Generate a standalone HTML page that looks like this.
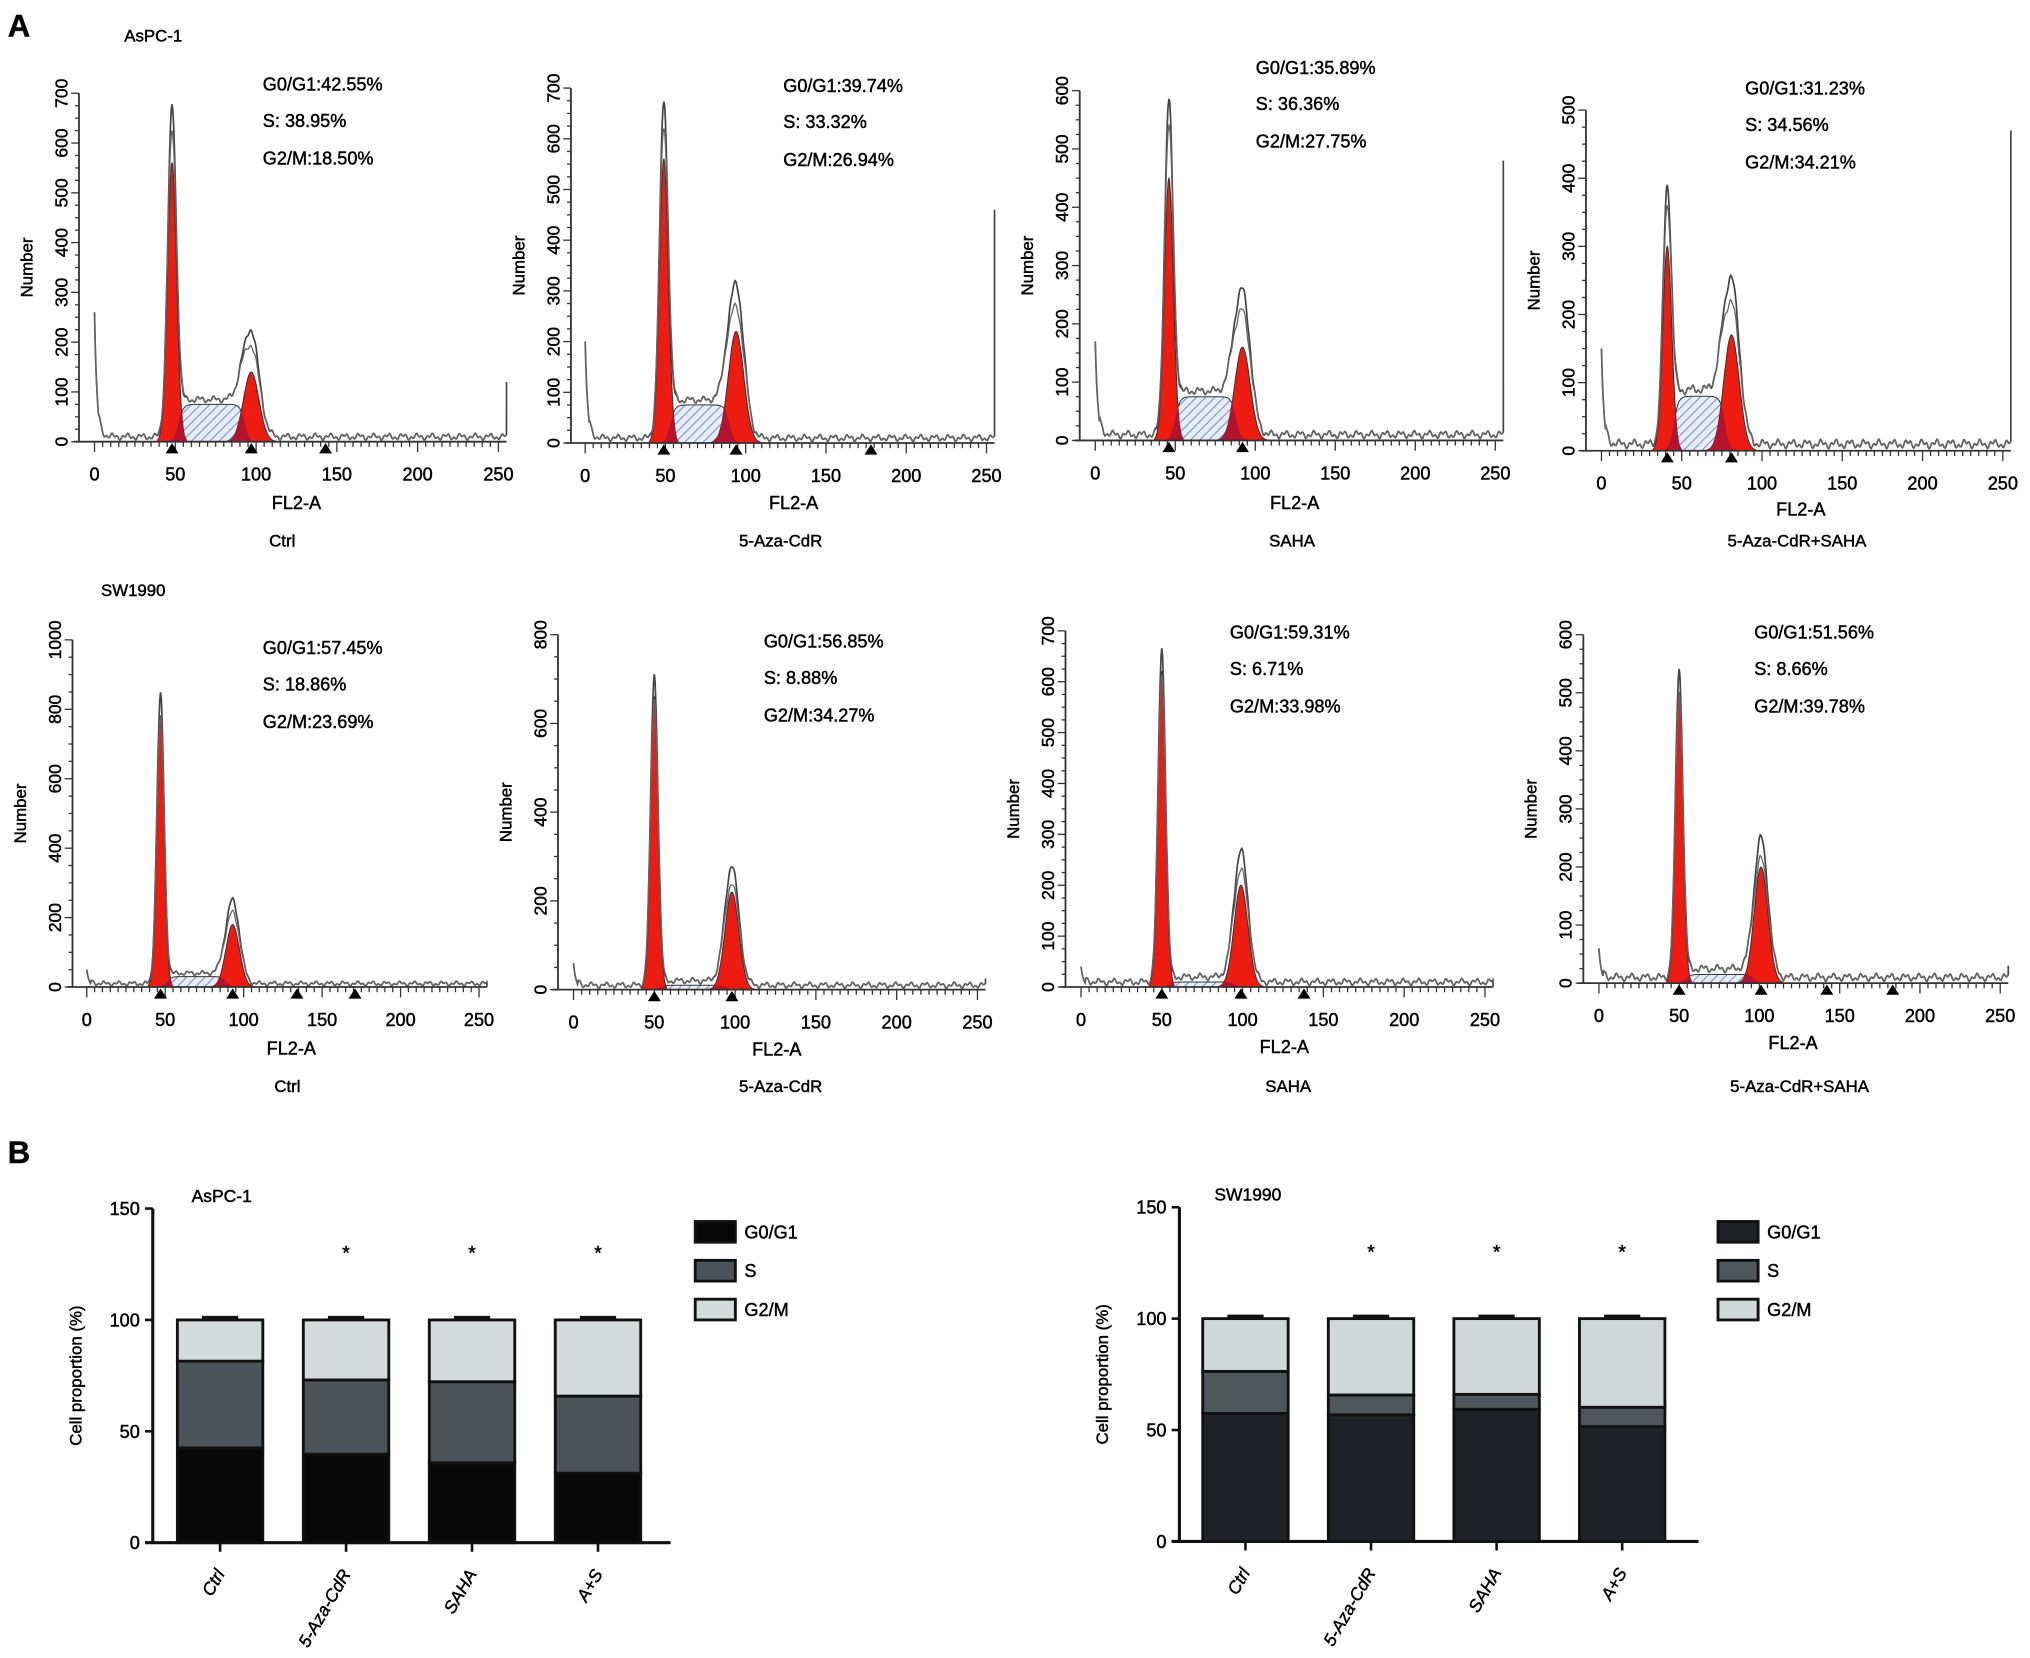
<!DOCTYPE html>
<html><head><meta charset="utf-8">
<style>
html,body{margin:0;padding:0;background:#fff;}
svg{display:block;font-family:"Liberation Sans",Arial,sans-serif;}
svg text{stroke:#000;stroke-width:0.35px;fill:#000;}
</style></head>
<body>
<svg id="fig" width="2030" height="1658" viewBox="0 0 1568 1280" preserveAspectRatio="none" xmlns="http://www.w3.org/2000/svg">
<defs>
<pattern id="hatch" patternUnits="userSpaceOnUse" width="5" height="5" patternTransform="rotate(45)">
<rect width="5" height="5" fill="#e8eef8"/>
<line x1="0" y1="0" x2="0" y2="5" stroke="#6f8fcf" stroke-width="1.6"/>
</pattern>
</defs>
<text x="6" y="28" font-size="24" font-weight="bold">A</text>
<text x="6" y="898" font-size="24" font-weight="bold">B</text>
<text x="96" y="32" font-size="13">AsPC-1</text>
<text x="78" y="460" font-size="13">SW1990</text>
<g id="hists"></g>
<g id="bars"></g>
</svg>
<script>
// ---- histogram data (peak parameters) ----
const histNames = ["aspc-ctrl","aspc-aza","aspc-saha","aspc-combo","sw-ctrl","sw-aza","sw-saha","sw-combo"];
const histTitles = ["Ctrl","5-Aza-CdR","SAHA","5-Aza-CdR+SAHA","Ctrl","5-Aza-CdR","SAHA","5-Aza-CdR+SAHA"];
const histYMax = [700,700,600,500,1000,800,700,600];
const histYStep = [100,100,100,100,200,200,100,100];
const g1Mean = [48,49,46,41,47,50,50,50];
const g1Env = [660,660,570,375,830,700,655,530];
const g1Red = [560,560,450,300,780,660,620,500];
const g2Mean = [97,94,92,81,93,98,99,101];
const g2Env = [210,300,245,240,240,270,260,240];
const g2Red = [140,220,160,170,180,220,200,200];
const sLevel = [75,75,75,80,30,10,10,15];
const debris = [260,200,170,150,50,60,40,60];
const endSpike = [120,460,480,470,0,25,0,30];
const statG1 = ["42.55%","39.74%","35.89%","31.23%","57.45%","56.85%","59.31%","51.56%"];
const statS = ["38.95%","33.32%","36.36%","34.56%","18.86%","8.88%","6.71%","8.66%"];
const statG2 = ["18.50%","26.94%","27.75%","34.21%","23.69%","34.27%","33.98%","39.78%"];
const arrowCh = [[48,97,143],[49,94,178],[46,92],[41,81],[47,93,134,171],[50,98],[50,99,138],[50,101,142,183]];

// layout (not data)
const L = [
 {ax:61,x0:73,x1:385,y0:341,yt:72,sx:203,sy:70,tx:218,ty:422,fx:229,fy:393},
 {ax:441,x0:452,x1:762,y0:342,yt:68,sx:605,sy:71,tx:603,ty:422,fx:613,fy:393},
 {ax:834,x0:846,x1:1155,y0:340,yt:70,sx:970,sy:57,tx:998,ty:422,fx:1000,fy:393},
 {ax:1225,x0:1237,x1:1547,y0:348,yt:85,sx:1348,sy:73,tx:1388,ty:422,fx:1391,fy:398},
 {ax:56,x0:67,x1:370,y0:762,yt:494,sx:203,sy:505,tx:222,ty:843,fx:225,fy:814},
 {ax:431,x0:443,x1:755,y0:764,yt:490,sx:590,sy:500,tx:603,ty:843,fx:600,fy:815},
 {ax:823,x0:835,x1:1147,y0:762,yt:487,sx:950,sy:493,tx:995,ty:843,fx:992,fy:813},
 {ax:1223,x0:1235,x1:1545,y0:759,yt:490,sx:1355,sy:493,tx:1390,ty:843,fx:1385,fy:810}
];
const NS="http://www.w3.org/2000/svg";
function mk(tag,attrs,parent){const e=document.createElementNS(NS,tag);for(const k in attrs)e.setAttribute(k,attrs[k]);parent.appendChild(e);return e;}
const gauss=(c,m,h,s)=>h*Math.exp(-0.5*((c-m)/s)**2);
const sig=x=>1/(1+Math.exp(-x));
const H=document.getElementById('hists');
for(let i=0;i<8;i++){
  const p=L[i];
  const g=mk('g',{},H);
  
  
  const X=c=>p.x0+(p.x1-p.x0)*c/250;
  const Y=v=>p.y0-(p.y0-p.yt)*v/histYMax[i];
  const sd1=i<4?2.8:2.4, sd2=i<4?4.8:4.3;
  const sComp=c=>sLevel[i]*sig((c-(g1Mean[i]+4))/1.5)*sig(((g2Mean[i]-4)-c)/1.5);
  const base=c=>c<3?0:10+4*Math.sin(c*0.7)+3*Math.sin(c*1.9);
  let d='M'+X(g1Mean[i])+','+Y(0);
  for(let c=g1Mean[i];c<=g2Mean[i];c+=0.5)d+=' L'+X(c).toFixed(1)+','+Y(sComp(c)).toFixed(1);
  d+=' L'+X(g2Mean[i])+','+Y(0)+'Z';
  const sp=mk('path',{d:d,fill:'url(#hatch)',stroke:'#333','stroke-width':0.8},g);
  
  
  [[g1Mean[i],g1Red[i],sd1,'g1'],[g2Mean[i],g2Red[i],sd2,'g2']].forEach(([m,h,s,n])=>{
    let dd='M'+X(m-3.2*s)+','+Y(0);
    for(let c=m-3.2*s;c<=m+3.2*s;c+=0.25)dd+=' L'+X(c).toFixed(1)+','+Y(gauss(c,m,h,s)).toFixed(1);
    dd+=' L'+X(m+3.2*s)+','+Y(0)+'Z';
    const rp=mk('path',{d:dd,fill:'#ee1c10',stroke:'#333','stroke-width':0.8},g);
    
    
    let od='M'+X(m-3.2*s)+','+Y(0);
    for(let c=m-3.2*s;c<=m+3.2*s;c+=0.25)od+=' L'+X(c).toFixed(1)+','+Y(Math.min(gauss(c,m,h,s),sComp(c))).toFixed(1);
    od+=' L'+X(m+3.2*s)+','+Y(0)+'Z';
    mk('path',{d:od,fill:'#b5122e',stroke:'none'},g);
  });
  let e='',f='';
  for(let c=0;c<=255;c+=0.5){
    const fit=gauss(c,g1Mean[i],g1Env[i]*0.92,sd1)+gauss(c,g2Mean[i],g2Env[i]*0.85,sd2*1.05)+sComp(c)+debris[i]*Math.exp(-c/1.6)+base(c);
    const env=gauss(c,g1Mean[i],g1Env[i],sd1*0.95)+gauss(c,g2Mean[i],g2Env[i],sd2)+sComp(c)+debris[i]*Math.exp(-c/1.6)+base(c);
    e+=(c?' L':'M')+X(c).toFixed(1)+','+Y(env).toFixed(1);
    f+=(c?' L':'M')+X(c).toFixed(1)+','+Y(fit).toFixed(1);
  }
  e+=' L'+X(255)+','+Y(endSpike[i]);
  const el=mk('path',{d:e,fill:'none',stroke:'#444','stroke-width':1.3},g);
  
  
  mk('path',{d:f,fill:'none',stroke:'#666','stroke-width':1},g);
  mk('line',{x1:p.ax,y1:Y(histYMax[i]),x2:p.ax,y2:p.y0,stroke:'#333','stroke-width':1.4},g);
  mk('line',{x1:p.ax-4,y1:p.y0,x2:X(255),y2:p.y0,stroke:'#333','stroke-width':1.4},g);
  for(let v=0;v<=histYMax[i];v+=histYStep[i]/4){
    const major=v%histYStep[i]===0;
    mk('line',{x1:p.ax-(major?6:3),y1:Y(v),x2:p.ax,y2:Y(v),stroke:'#333','stroke-width':1},g);
    if(major){
      const t=mk('text',{x:0,y:0,'font-size':13.5,'text-anchor':'middle',transform:`translate(${p.ax-9},${Y(v)}) rotate(-90)`},g);
      t.textContent=v;
      
      
    }
  }
  for(let c=0;c<=250;c+=5){
    const major=c%50===0;
    mk('line',{x1:X(c),y1:p.y0,x2:X(c),y2:p.y0+(major?8:4),stroke:'#333','stroke-width':1},g);
    if(major){
      const t=mk('text',{x:X(c),y:p.y0+30,'font-size':14,'text-anchor':'middle'},g);
      t.textContent=c;
      
      
    }
  }
  arrowCh[i].forEach(c=>{
    const a=mk('path',{d:`M${X(c)-5},${p.y0+9} L${X(c)+5},${p.y0+9} L${X(c)},${p.y0+1}Z`,fill:'#000'},g);
    
    
  });
  const yl=mk('text',{x:0,y:0,'font-size':13,'text-anchor':'middle',transform:`translate(${p.ax-36},${(p.y0+p.yt)/2}) rotate(-90)`},g);
  yl.textContent='Number';
  
  
  const xl=mk('text',{x:p.fx,y:p.fy,'font-size':14,'text-anchor':'middle'},g);
  xl.textContent='FL2-A';
  
  
  const tl=mk('text',{x:p.tx,y:p.ty,'font-size':13,'text-anchor':'middle'},g);
  tl.textContent=histTitles[i];
  
  
  [['G0/G1:'+statG1[i],0],['S: '+statS[i],28],['G2/M:'+statG2[i],57]].forEach(([s,dy])=>{
    const t=mk('text',{x:p.sx,y:p.sy+dy,'font-size':14},g);
    t.textContent=s;
    
    
  });
}

// ---- bar chart data ----
const barCategories = ["Ctrl","5-Aza-CdR","SAHA","A+S"];
const aspcG1 = [42.55,39.74,35.89,31.23];
const aspcS = [38.95,33.32,36.36,34.56];
const aspcG2 = [18.50,26.94,27.75,34.21];
const swG1 = [57.45,56.85,59.31,51.56];
const swS = [18.86,8.88,6.71,8.66];
const swG2 = [23.69,34.27,33.98,39.78];
const barSig = [false,true,true,true];
const barTicks = [0,50,100,150];
const legendLabels = ["G0/G1","S","G2/M"];

const B=document.getElementById('bars');
const charts=[
 {name:'aspc1',title:'AsPC-1',ax:118,y0:1191,yt:933,x0:137,pitch:97.3,bw:66,g1:aspcG1,s:aspcS,g2:aspcG2,cols:['#080808','#4b5459','#d3dcdb'],lx:537,tx:148,ty:928,axEnd:518},
 {name:'sw1990',title:'SW1990',ax:911,y0:1190,yt:932,x0:929,pitch:97,bw:66,g1:swG1,s:swS,g2:swG2,cols:['#1e2226','#4d575c','#cfd8d8'],lx:1327,tx:938,ty:927,axEnd:1312}
];
charts.forEach(ch=>{
  const g=mk('g',{},B);
  
  
  const Y=v=>ch.y0-(ch.y0-ch.yt)*v/150;
  const t0=mk('text',{x:ch.tx,y:ch.ty,'font-size':13.5},g);
  t0.textContent=ch.title;
  
  
  mk('line',{x1:ch.ax,y1:Y(150),x2:ch.ax,y2:ch.y0,stroke:'#111','stroke-width':2.4},g);
  mk('line',{x1:ch.ax-6,y1:ch.y0,x2:ch.axEnd,y2:ch.y0,stroke:'#111','stroke-width':2.4},g);
  barTicks.forEach(v=>{
    mk('line',{x1:ch.ax-6,y1:Y(v),x2:ch.ax,y2:Y(v),stroke:'#111','stroke-width':2},g);
    const t=mk('text',{x:ch.ax-10,y:Y(v)+5,'font-size':14,'text-anchor':'end'},g);
    t.textContent=v;
    
    
  });
  const yl=mk('text',{x:0,y:0,'font-size':13,'text-anchor':'middle',transform:`translate(${ch.ax-55},${Y(75)}) rotate(-90)`},g);
  yl.textContent='Cell proportion (%)';
  
  
  barCategories.forEach((cat,k)=>{
    const x=ch.x0+k*ch.pitch, cx=x+ch.bw/2;
    const segs=[[0,ch.g1[k],0,'g0-g1'],[ch.g1[k],ch.g1[k]+ch.s[k],1,'s'],[ch.g1[k]+ch.s[k],ch.g1[k]+ch.s[k]+ch.g2[k],2,'g2-m']];
    segs.forEach(([a,b,ci,n])=>{
      const r=mk('rect',{x:x,y:Y(b),width:ch.bw,height:Y(a)-Y(b),fill:ch.cols[ci],stroke:'#111','stroke-width':2.2},g);
      
      
      mk('line',{x1:cx-14,y1:Y(b)-2,x2:cx+14,y2:Y(b)-2,stroke:'#111','stroke-width':2.2},g);
    });
    mk('line',{x1:cx,y1:ch.y0,x2:cx,y2:ch.y0+7,stroke:'#111','stroke-width':2},g);
    const t=mk('text',{x:0,y:0,'font-size':13.5,'font-style':'italic','text-anchor':'end',transform:`translate(${cx+4},${ch.y0+24}) rotate(-60)`},g);
    t.textContent=cat;
    
    
    if(barSig[k]){
      const s=mk('text',{x:cx,y:Y(130)+5,'font-size':15,'text-anchor':'middle'},g);
      s.textContent='*';
      
      
    }
  });
  legendLabels.forEach((lab,j)=>{
    const y=943+j*30;
    const r=mk('rect',{x:ch.lx,y:y,width:31,height:16,fill:ch.cols[j],stroke:'#111','stroke-width':2.2},g);
    
    
    const t=mk('text',{x:ch.lx+38,y:y+13,'font-size':14},g);
    t.textContent=lab;
    
    
  });
});
</script>
</body></html>
